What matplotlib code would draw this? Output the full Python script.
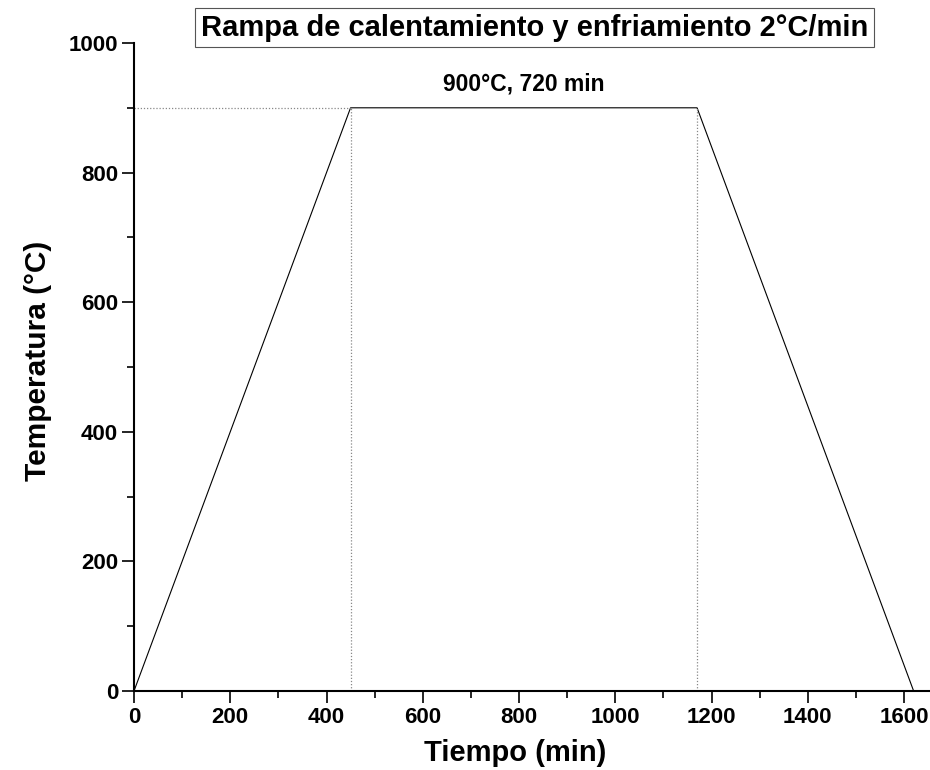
import matplotlib
matplotlib.use("Agg")
import matplotlib.pyplot as plt
from matplotlib.ticker import MultipleLocator

plt.rcParams['font.family'] = ['Liberation Sans', 'DejaVu Sans']

# Data: heating/cooling ramp
time_min = [0, 450, 1170, 1620]
temp_c = [0, 900, 900, 0]
hold_temp = 900
hold_start = 450
hold_end = 1170
title = "Rampa de calentamiento y enfriamiento 2°C/min"
note = "900°C, 720 min"

fig = plt.figure(figsize=(9.3, 7.7), dpi=100)
ax = fig.add_axes([134/930, 1-691/770, 1-134/930, (691-43)/770])

ax.plot(time_min, temp_c, color='black', lw=0.8)
ax.plot([0, hold_start], [hold_temp, hold_temp], color='#888888', lw=0.9, ls=(0, (1, 1.5)))
ax.plot([hold_start, hold_start], [0, hold_temp], color='#888888', lw=0.9, ls=(0, (1, 1.5)))
ax.plot([hold_end, hold_end], [0, hold_temp], color='#888888', lw=0.9, ls=(0, (1, 1.5)))

ax.set_xlim(0, 1654)
ax.set_ylim(0, 1000)
ax.spines['top'].set_visible(False)
ax.spines['right'].set_visible(False)
for s in ('left', 'bottom'):
    ax.spines[s].set_linewidth(1.5)
ax.xaxis.set_major_locator(MultipleLocator(200))
ax.xaxis.set_minor_locator(MultipleLocator(100))
ax.yaxis.set_major_locator(MultipleLocator(200))
ax.yaxis.set_minor_locator(MultipleLocator(100))
ax.tick_params(which='major', direction='out', length=8.5, width=1.2, labelsize=16, pad=3)
ax.tick_params(which='minor', direction='out', length=5, width=1.2)
for lab in ax.get_xticklabels() + ax.get_yticklabels():
    lab.set_fontweight('bold')

ax.set_xlabel("Tiempo (min)", fontsize=21, fontweight='bold', labelpad=8)
ax.set_ylabel("Temperatura (°C)", fontsize=21.5, fontweight='bold', labelpad=12)
ax.xaxis.label.set_x(0.479)
ax.yaxis.label.set_y(0.509)

ax.text((hold_start + hold_end) / 2, 936, note, ha='center', va='center',
        fontsize=16.5, fontweight='bold')

fig.text(534.5/930, 1-27.5/770, title, ha='center', va='center', fontsize=21,
         fontweight='bold',
         bbox=dict(boxstyle='square,pad=0.2', fc='white', ec='#555555', lw=0.8))

fig.savefig("out.png", dpi=100)
